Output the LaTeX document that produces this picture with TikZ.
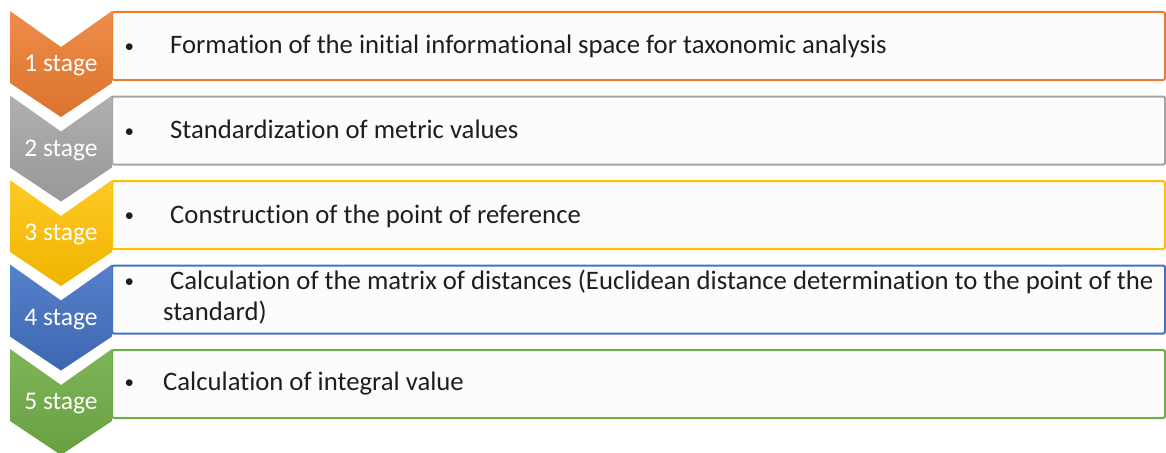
\documentclass[tikz,border=0pt]{standalone}
\usepackage{fontspec}
\setmainfont{Carlito}[Ligatures=NoCommon]
\usepackage{xcolor}
\usepackage{tikz}
\usetikzlibrary{positioning}

\definecolor{stOrange}{HTML}{ED7D31}
\definecolor{stGray}{HTML}{A5A5A5}
\definecolor{stGold}{HTML}{FFC000}
\definecolor{stBlue}{HTML}{4472C4}
\definecolor{stGreen}{HTML}{70AD47}
\definecolor{boxFill}{HTML}{FCFCFC}
\definecolor{textDark}{HTML}{1E1E1E}

\newcommand{\bul}{\llap{\raisebox{1.5pt}{\fontsize{19}{19}\selectfont\textbullet}\hspace{29pt}}}

\begin{document}
\begin{tikzpicture}[x=1pt,y=-1pt,
    stagebox/.style={draw=#1, line width=2pt, fill=boxFill, rounded corners=2pt,
        minimum width=1053pt, minimum height=68pt, inner sep=0pt, outer sep=0pt},
    chevron/.style 2 args={top color=#1, bottom color=#2},
    stagelabel/.style={text=white, inner sep=0pt, anchor=base, font=\fontsize{25.5}{30}\selectfont},
    steptext/.style={text=textDark, inner sep=0pt, anchor=base west, align=left,
        font=\fontsize{26.7}{31}\selectfont}]
        \useasboundingbox (0,0) rectangle (1166,452);

        % boxes
        \node[stagebox=stOrange] (b1) at (638.5,46) {};
        \node[stagebox=stGray, below=16.5pt of b1] (b2) {};
        \node[stagebox=stGold, below=16.5pt of b2] (b3) {};
        \node[stagebox=stBlue, below=16.5pt of b3] (b4) {};
        \node[stagebox=stGreen, below=16.5pt of b4] (b5) {};

        % chevrons
        \coordinate (c1) at (10,11);
        \coordinate (c2) at (10,95.5);
        \coordinate (c3) at (10,180);
        \coordinate (c4) at (10,264.5);
        \coordinate (c5) at (10,349);
        \shade[chevron={stOrange!88!white}{stOrange!92!black}] (c1) -- ++(51,36) -- ++(51,-36) -- ++(0,72) -- ++(-51,34) -- ++(-51,-34) -- cycle;
        \shade[chevron={stGray!88!white}{stGray!92!black}] (c2) -- ++(51,36) -- ++(51,-36) -- ++(0,72) -- ++(-51,34) -- ++(-51,-34) -- cycle;
        \shade[chevron={stGold!85!white}{stGold!94!black}] (c3) -- ++(51,36) -- ++(51,-36) -- ++(0,72) -- ++(-51,34) -- ++(-51,-34) -- cycle;
        \shade[chevron={stBlue!90!white}{stBlue!90!black}] (c4) -- ++(51,36) -- ++(51,-36) -- ++(0,72) -- ++(-51,34) -- ++(-51,-34) -- cycle;
        \shade[chevron={stGreen!90!white}{stGreen!92!black}] (c5) -- ++(51,36) -- ++(51,-36) -- ++(0,72) -- ++(-51,34) -- ++(-51,-34) -- cycle;

        % stage labels
        \node[stagelabel] (s1) at (61,71.7) {1 stage};
        \node[stagelabel] (s2) at (61,156.2) {2 stage};
        \node[stagelabel] (s3) at (61,240.7) {3 stage};
        \node[stagelabel] (s4) at (61,325.2) {4 stage};
        \node[stagelabel] (s5) at (61,409.7) {5 stage};

        % texts
        \node[steptext] (t1) at (163,54) {\bul\hspace{7pt}Formation of the initial informational space for taxonomic analysis};
        \node[steptext] (t2) at (163,138.5) {\bul\hspace{7pt}Standardization of metric values};
        \node[steptext] (t3) at (163,223) {\bul\hspace{7pt}Construction of the point of reference};
        \node[steptext] (t4) at (163,320) {\bul\hspace{7pt}Calculation of the matrix of distances (Euclidean distance determination to the point of the\\standard)};
        \node[steptext] (t5) at (163,390) {\bul Calculation of integral value};
\end{tikzpicture}
\end{document}
